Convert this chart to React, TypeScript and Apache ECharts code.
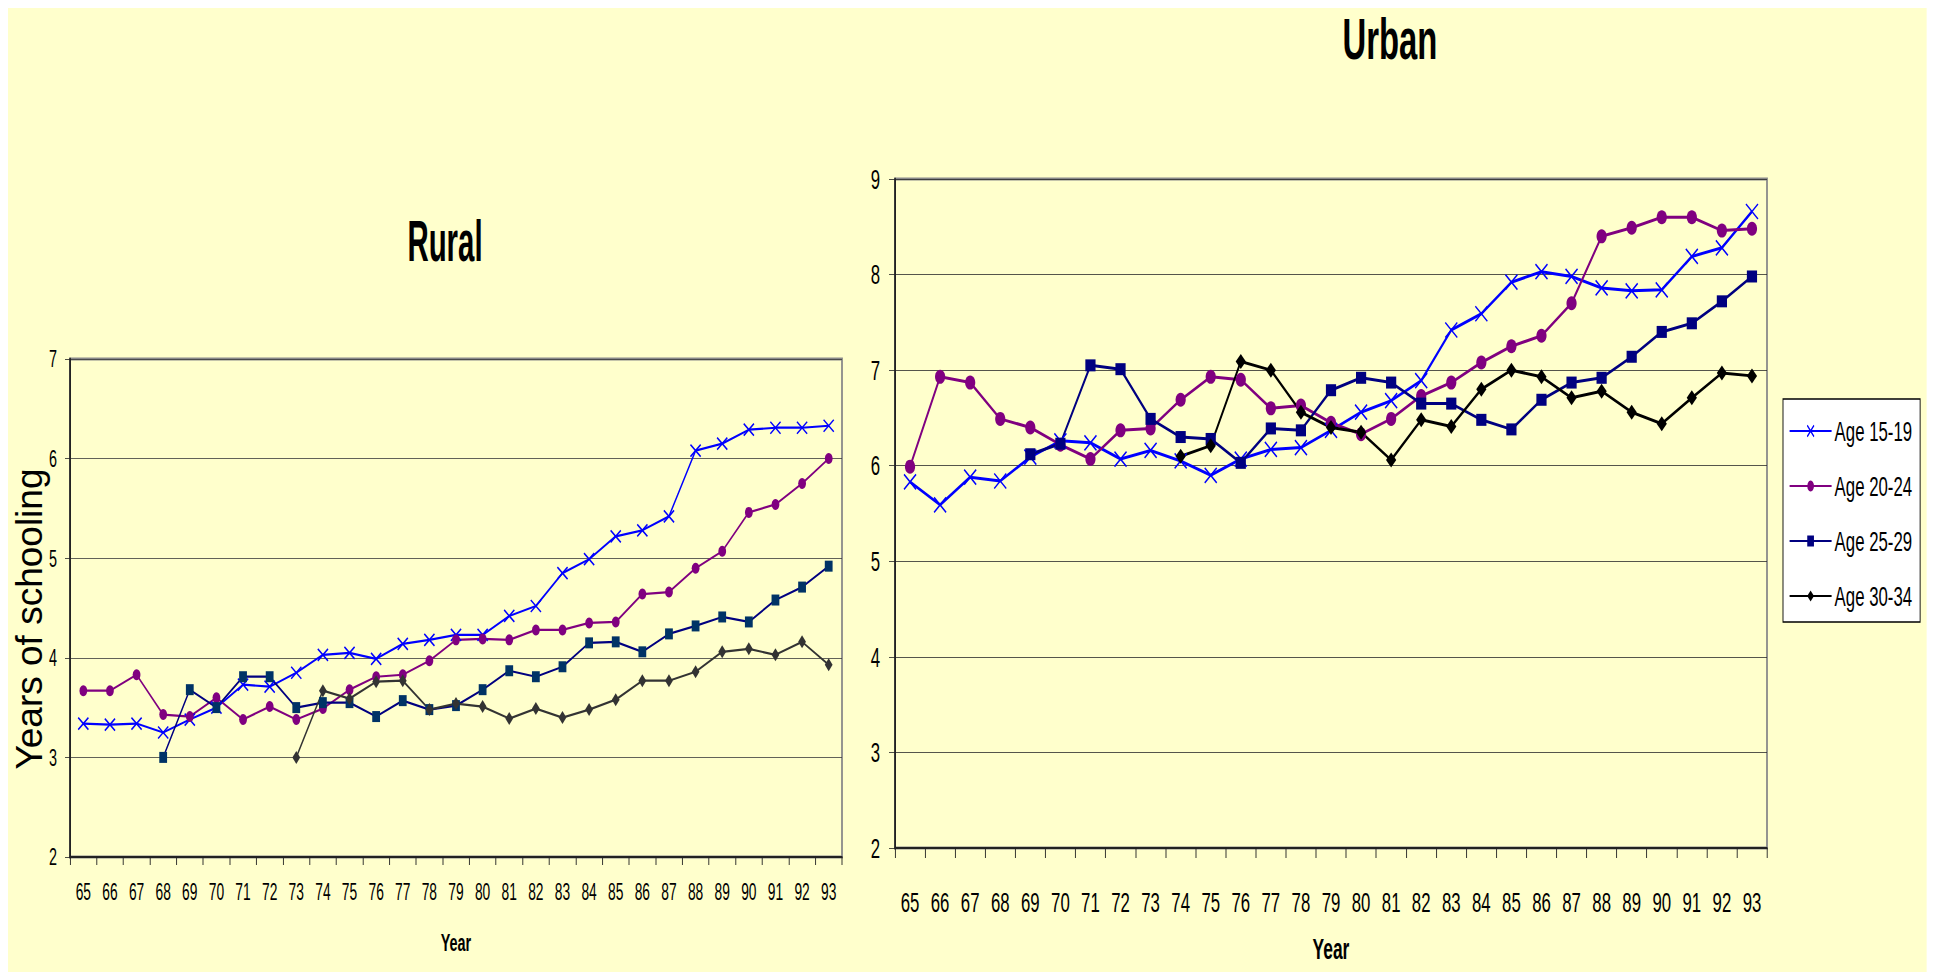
import React, { useEffect, useRef } from "react";
import * as echarts from "echarts";

const years = ["65","66","67","68","69","70","71","72","73","74","75","76","77","78","79","80","81","82","83","84","85","86","87","88","89","90","91","92","93"];

const ruralAge1519 = [3.34,3.33,3.34,3.25,3.38,3.5,3.73,3.71,3.85,4.03,4.05,3.99,4.14,4.18,4.23,4.23,4.42,4.52,4.85,4.99,5.22,5.28,5.42,6.08,6.15,6.29,6.31,6.31,6.33];
const ruralAge2024 = [3.67,3.67,3.83,3.43,3.41,3.6,3.38,3.51,3.38,3.49,3.68,3.81,3.83,3.97,4.18,4.19,4.18,4.28,4.28,4.35,4.36,4.64,4.66,4.9,5.07,5.46,5.54,5.75,6.0];
const ruralAge2529 = [null,null,null,3.0,3.68,3.5,3.81,3.81,3.5,3.55,3.55,3.41,3.57,3.48,3.52,3.68,3.87,3.81,3.91,4.15,4.16,4.06,4.24,4.32,4.41,4.36,4.58,4.71,4.92];
const ruralAge3034 = [null,null,null,null,null,null,null,null,3.0,3.67,3.59,3.76,3.77,3.48,3.54,3.51,3.39,3.49,3.4,3.48,3.58,3.77,3.77,3.86,4.06,4.09,4.03,4.16,3.93];

const urbanAge1519 = [5.83,5.59,5.88,5.84,6.09,6.26,6.24,6.07,6.16,6.05,5.9,6.07,6.17,6.19,6.37,6.56,6.68,6.89,7.42,7.59,7.92,8.03,7.98,7.86,7.83,7.84,8.19,8.28,8.66];
const urbanAge2024 = [5.99,6.93,6.87,6.49,6.4,6.22,6.07,6.37,6.39,6.69,6.93,6.9,6.6,6.63,6.45,6.33,6.49,6.73,6.87,7.08,7.25,7.36,7.7,8.4,8.49,8.6,8.6,8.46,8.48];
const urbanAge2529 = [null,null,null,null,6.12,6.23,7.05,7.01,6.49,6.3,6.28,6.03,6.39,6.37,6.79,6.92,6.87,6.65,6.65,6.48,6.38,6.69,6.87,6.92,7.14,7.4,7.49,7.72,7.98];
const urbanAge3034 = [null,null,null,null,null,null,null,null,null,6.1,6.21,7.09,7.0,6.56,6.4,6.35,6.06,6.48,6.41,6.8,7.0,6.93,6.71,6.78,6.56,6.44,6.71,6.97,6.94];

const seriesNames = ["Age 15-19", "Age 20-24", "Age 25-29", "Age 30-34"];

// The reference is horizontally squeezed; the chart is laid out wider and squeezed by CSS.
const SX = 0.6;
const OUT_W = 1919;
const OUT_H = 964;
const u = (px: number) => px / SX; // screen-x pixels -> unscaled layout pixels

const FONT = "'Liberation Sans', Arial, sans-serif";
const XSYM = "path://M0,0L10,10M10,0L0,10";

function makeSeries(
  name: string,
  data: (number | null)[],
  idx: number,
  color: string,
  symbol: string,
  size: number[],
  width: number,
  isX: boolean,
  fill?: string
) {
  return {
    name,
    type: "line",
    xAxisIndex: idx,
    yAxisIndex: idx,
    data,
    symbol,
    symbolSize: size,
    showAllSymbol: true,
    connectNulls: false,
    lineStyle: { color, width },
    itemStyle: isX
      ? { color: "none", borderColor: color, borderWidth: 2 }
      : { color: fill || color, borderColor: fill || color, borderWidth: 0 },
    emphasis: { disabled: true },
  };
}

export default function App() {
  const ref = useRef<HTMLDivElement>(null);
  useEffect(() => {
    if (!ref.current) return;
    const prevOverflow = document.body.style.overflow;
    document.body.style.overflow = "hidden";
    const chart = echarts.init(ref.current, null, { renderer: "svg" });
    const xAxisBase = (gridIndex: number, fontSize: number, margin: number, tickLen: number, nameSize: number, nameGap: number) => ({
      type: "category",
      gridIndex,
      data: years,
      boundaryGap: true,
      axisLine: { show: true, lineStyle: { color: "#222", width: 2 } },
      axisTick: { show: true, length: tickLen, lineStyle: { color: "#222", width: 1.5 } },
      axisLabel: { interval: 0, fontFamily: FONT, fontSize, color: "#000", margin },
      splitLine: { show: false },
      name: "Year",
      nameLocation: "middle",
      nameGap,
      nameTextStyle: { fontFamily: FONT, fontWeight: "bold", fontSize: nameSize, color: "#000" },
    });
    const option: any = {
      animation: false,
      backgroundColor: "#FFFFCC",
      grid: [
        { left: u(62), top: 351, width: u(772), height: 498, outerBoundsMode: "none", containLabel: false, show: true, borderColor: "#8a8a8a", borderWidth: 3, backgroundColor: "transparent" },
        { left: u(887), top: 171, width: u(872), height: 669, outerBoundsMode: "none", containLabel: false, show: true, borderColor: "#8a8a8a", borderWidth: 3, backgroundColor: "transparent" },
      ],
      xAxis: [
        xAxisBase(0, 23, 24, 8, 24, 73),
        xAxisBase(1, 28, 40, 10, 29, 86),
      ],
      yAxis: [
        {
          type: "value",
          gridIndex: 0,
          min: 2,
          max: 7,
          interval: 1,
          axisLine: { show: true, lineStyle: { color: "#222", width: 3 } },
          axisTick: { show: true, length: u(5), lineStyle: { color: "#222" } },
          axisLabel: { fontFamily: FONT, fontSize: 24, color: "#000", margin: u(13) },
          splitLine: { show: true, lineStyle: { color: "#3a3a3a", width: 1 } },
        },
        {
          type: "value",
          gridIndex: 1,
          min: 2,
          max: 9,
          interval: 1,
          axisLine: { show: true, lineStyle: { color: "#222", width: 3 } },
          axisTick: { show: true, length: u(6), lineStyle: { color: "#222" } },
          axisLabel: { fontFamily: FONT, fontSize: 28, color: "#000", margin: u(15) },
          splitLine: { show: true, lineStyle: { color: "#2a2a2a", width: 1 } },
        },
      ],
      legend: {
        data: seriesNames,
        orient: "vertical",
        left: u(1775),
        top: 391,
        itemWidth: u(42),
        itemHeight: 14,
        itemGap: 27,
        padding: [18, u(8), 12, u(6)],
        backgroundColor: "#ffffff",
        borderColor: "#000",
        borderWidth: 1.5,
        selectedMode: false,
        textStyle: { fontFamily: FONT, fontSize: 28, color: "#000" },
      },
      graphic: [
        {
          type: "text",
          x: u(437),
          y: 234,
          scaleX: 0.86,
          style: { text: "Rural", font: `bold 57px ${FONT}`, fill: "#000", textAlign: "center", textVerticalAlign: "middle" },
        },
        {
          type: "text",
          x: u(1382),
          y: 31,
          scaleX: 0.96,
          style: { text: "Urban", font: `bold 57px ${FONT}`, fill: "#000", textAlign: "center", textVerticalAlign: "middle" },
        },
        {
          type: "text",
          x: u(21),
          y: 611,
          rotation: Math.PI / 2,
          scaleY: 1 / SX,
          style: { text: "Years of schooling", font: `37px ${FONT}`, fill: "#000", textAlign: "center", textVerticalAlign: "middle" },
        },
      ],
      series: [
        makeSeries(seriesNames[0], urbanAge1519, 1, "#0000FF", XSYM, [20, 15], 3, true),
        makeSeries(seriesNames[1], urbanAge2024, 1, "#800080", "circle", [17, 14], 3, false),
        makeSeries(seriesNames[2], urbanAge2529, 1, "#000080", "rect", [17, 12], 3, false),
        makeSeries(seriesNames[3], urbanAge3034, 1, "#000000", "diamond", [17, 15], 3, false),
        makeSeries(seriesNames[0], ruralAge1519, 0, "#0000FF", XSYM, [17, 12], 2.2, true),
        makeSeries(seriesNames[1], ruralAge2024, 0, "#800080", "circle", [13, 11], 2.2, false),
        makeSeries(seriesNames[2], ruralAge2529, 0, "#000080", "rect", [13, 11], 2.2, false, "#003366"),
        makeSeries(seriesNames[3], ruralAge3034, 0, "#333333", "diamond", [13, 13], 2.2, false),
      ],
    };
    chart.setOption(option);
    return () => {
      chart.dispose();
      document.body.style.overflow = prevOverflow;
    };
  }, []);
  return (
    <div style={{ width: OUT_W, height: OUT_H, overflow: "hidden" }}>
      <div
        ref={ref}
        style={{ width: u(OUT_W), height: OUT_H, transform: `scaleX(${SX})`, transformOrigin: "0 0" }}
      />
    </div>
  );
}
